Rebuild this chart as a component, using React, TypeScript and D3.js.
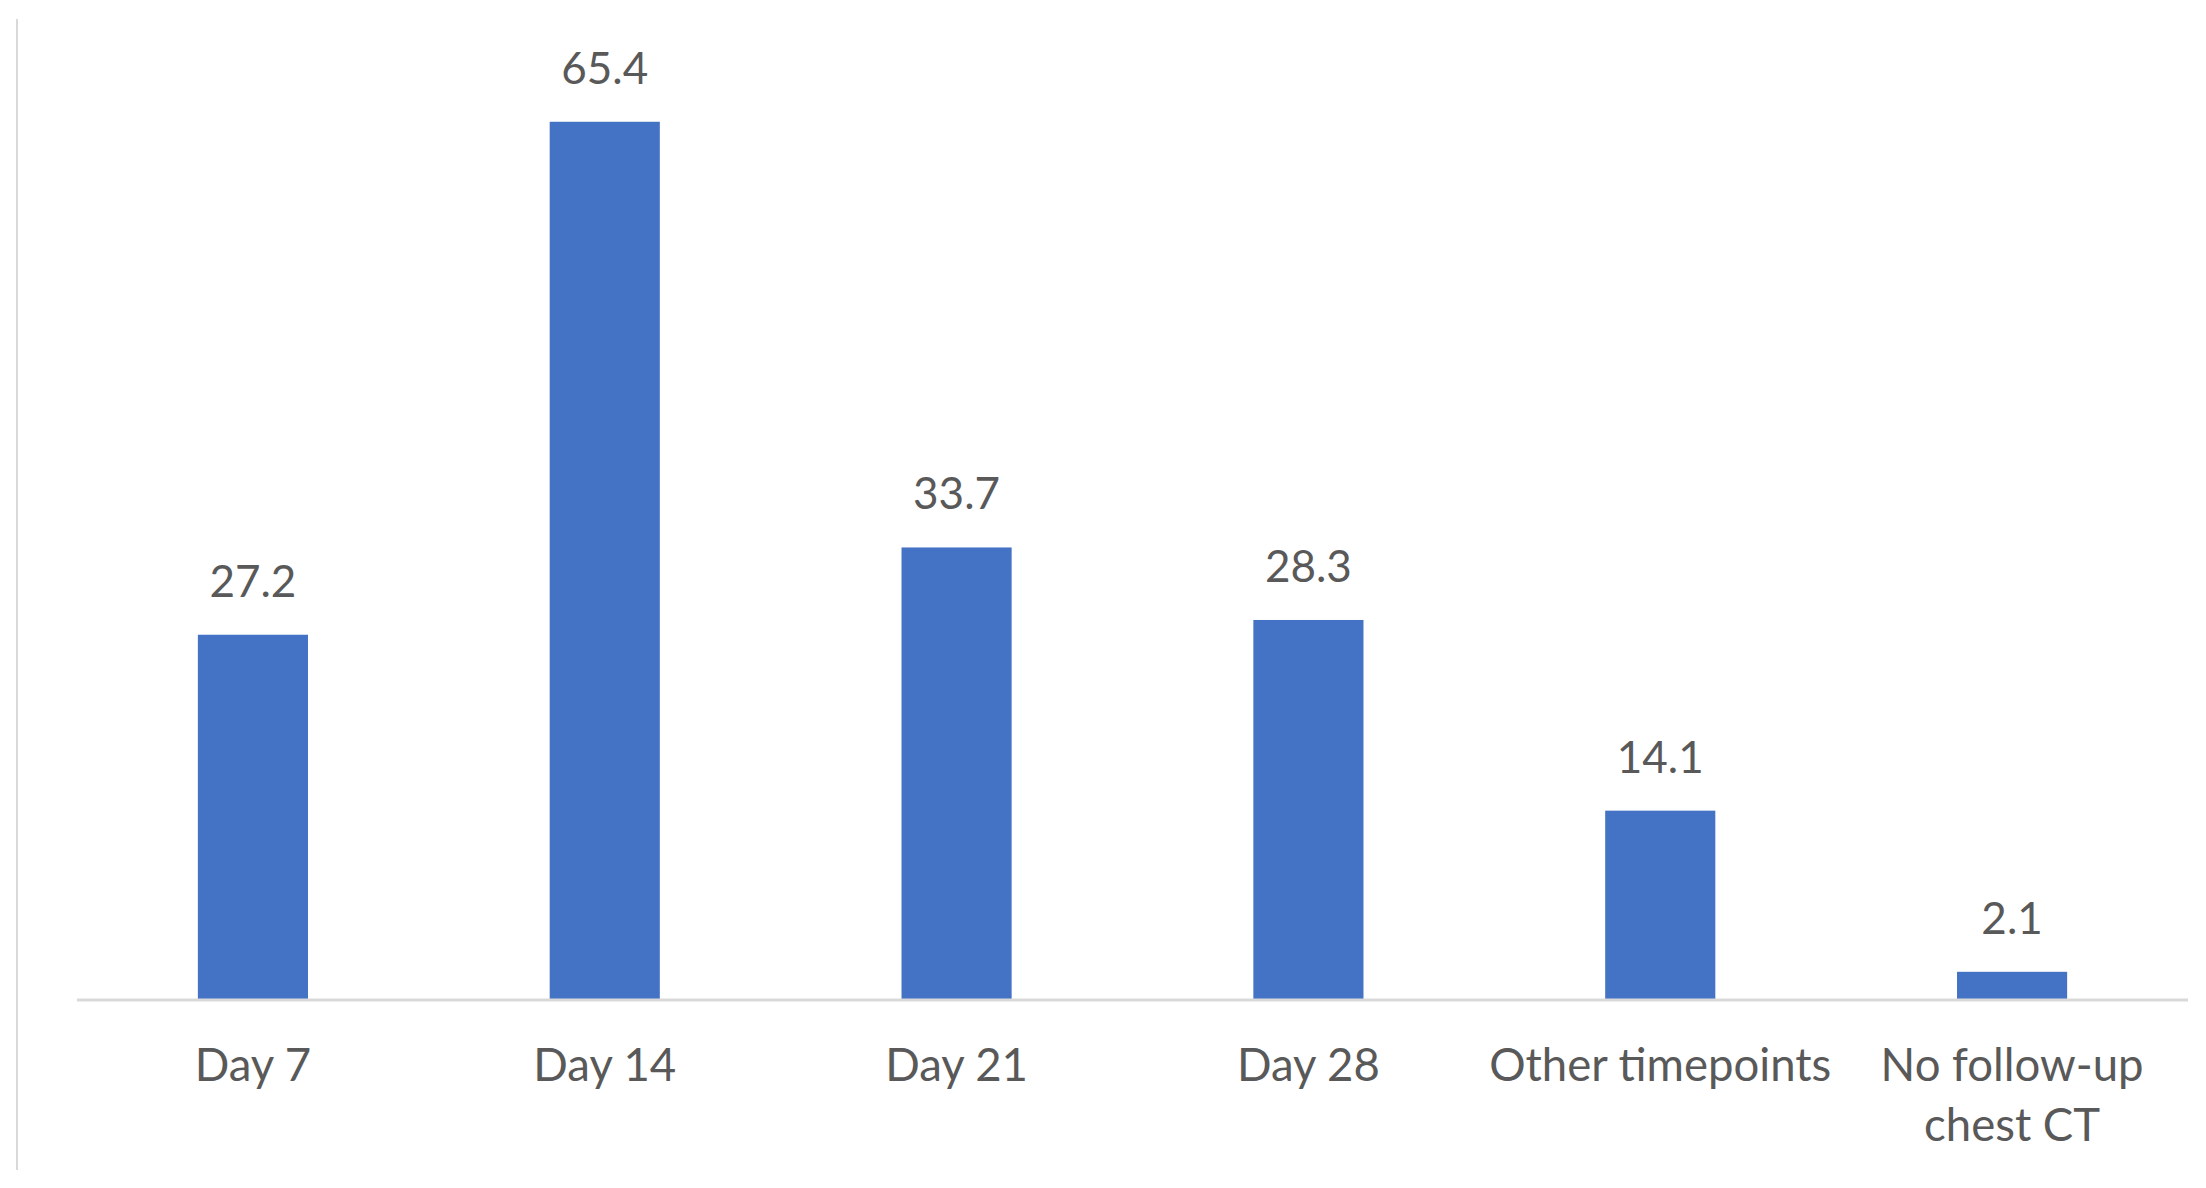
import React, { useEffect, useRef } from "react";
import * as d3 from "d3";

// chart data
const categories = ["Day 7", "Day 14", "Day 21", "Day 28", "Other timepoints", "No follow-up chest CT"];
const categoryLines = [["Day 7"], ["Day 14"], ["Day 21"], ["Day 28"], ["Other timepoints"], ["No follow-up", "chest CT"]];
const values = [27.2, 65.4, 33.7, 28.3, 14.1, 2.1];
const yDomain = [0, 70];

function App() {
    const chart = useRef<SVGSVGElement>(null);

    useEffect(() => {
        const W = 2206;
        const H = 1188;
        const margin = { top: 60, right: 18, bottom: 188, left: 77 };
        const width = W - margin.left - margin.right;
        const height = H - margin.top - margin.bottom;
        const font = "Lato, 'Open Sans', sans-serif";
        const textColor = "#595959";

        const svg = d3.select(chart.current)
            .attr("width", W)
            .attr("height", H);

        // thin border line on the left edge
        svg.append("line")
            .attr("x1", 17).attr("x2", 17)
            .attr("y1", 19).attr("y2", 1170)
            .attr("stroke", "#d9d9d9")
            .attr("stroke-width", 2);

        const g = svg.append("g")
            .attr("transform", `translate(${margin.left},${margin.top})`);

        const x = d3.scaleBand<string>()
            .domain(categories)
            .range([0, width])
            .paddingInner(0.687)
            .paddingOuter(0.3435);

        const y = d3.scaleLinear()
            .domain(yDomain)
            .range([height, 0]);

        // bars
        g.selectAll(".bar")
            .data(values)
            .enter()
            .append("rect")
                .attr("class", "bar")
                .attr("x", (d, i) => x(categories[i])!)
                .attr("y", d => y(d))
                .attr("width", x.bandwidth())
                .attr("height", d => y(0) - y(d))
                .attr("fill", "#4472c4");

        // baseline
        g.append("line")
            .attr("x1", 0).attr("x2", width)
            .attr("y1", y(0)).attr("y2", y(0))
            .attr("stroke", "#d9d9d9")
            .attr("stroke-width", 3);

        // value labels
        g.selectAll(".val")
            .data(values)
            .enter()
            .append("text")
                .attr("class", "val")
                .attr("x", (d, i) => x(categories[i])! + x.bandwidth() / 2)
                .attr("y", d => y(d) - 38)
                .attr("text-anchor", "middle")
                .attr("font-family", font)
                .attr("font-size", 44)
                .attr("fill", textColor)
                .text(d => d.toFixed(1));

        // category labels
        const cat = g.selectAll(".cat")
            .data(categoryLines)
            .enter()
            .append("text")
                .attr("class", "cat")
                .attr("x", (d, i) => x(categories[i])! + x.bandwidth() / 2)
                .attr("y", y(0) + 81)
                .attr("text-anchor", "middle")
                .attr("font-family", font)
                .attr("font-size", 45.5)
                .attr("fill", textColor);

        cat.selectAll("tspan")
            .data(d => d)
            .enter()
            .append("tspan")
                .attr("x", function () { return (this.parentNode as SVGTextElement).getAttribute("x"); })
                .attr("dy", (d, i) => (i === 0 ? 0 : 60))
                .text(d => d);

        return () => {
            svg.selectAll("*").remove();
        };
    }, []);

    return (
        <svg ref={chart} style={{ position: "absolute", left: 0, top: 0, background: "#fff" }}></svg>
    );
}

export default App;
